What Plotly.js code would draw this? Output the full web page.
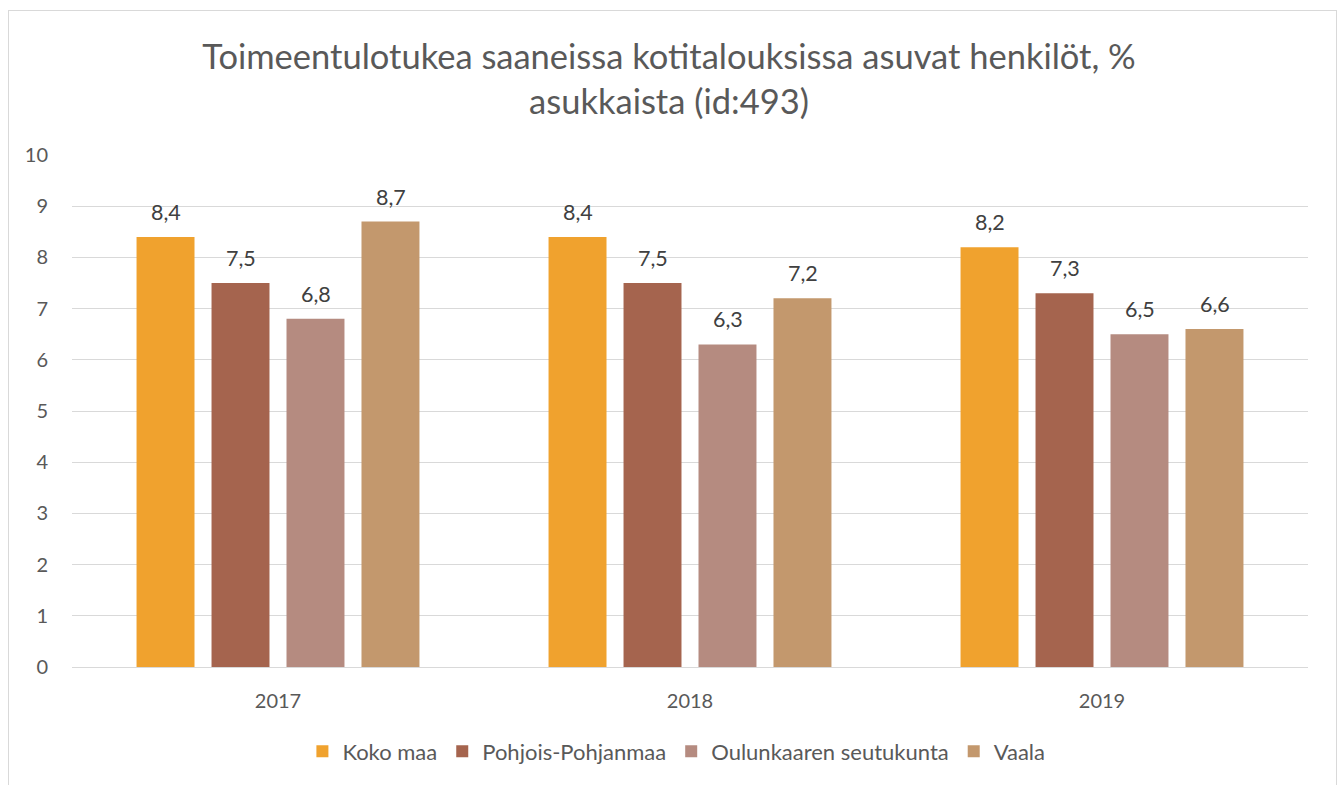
<!DOCTYPE html>
<html>
<head>
<meta charset="utf-8">
<script src="https://cdn.plot.ly/plotly-3.0.1.min.js"></script>
<style>
html,body{margin:0;padding:0;background:#fff;}
#chart{width:1338px;height:785px;}
#frame{position:absolute;left:8px;top:10px;width:1327px;height:800px;border:1px solid #d9d9d9;pointer-events:none;}
</style>
</head>
<body>
<div id="chart"></div>
<div id="frame"></div>
<script>
const years = ['2017', '2018', '2019'];
const seriesNames = ['Koko maa', 'Pohjois-Pohjanmaa', 'Oulunkaaren seutukunta', 'Vaala'];
const kokoMaa = [8.4, 8.4, 8.2];
const pohjoisPohjanmaa = [7.5, 7.5, 7.3];
const oulunkaari = [6.8, 6.3, 6.5];
const vaala = [8.7, 7.2, 6.6];
const yTicks = [0, 1, 2, 3, 4, 5, 6, 7, 8, 9, 10];

const colors = ['#F0A22E', '#A5644E', '#B58B80', '#C3986D'];
const values = [kokoMaa, pohjoisPohjanmaa, oulunkaari, vaala];

const traces = values.map((v, i) => ({
  type: 'bar',
  name: seriesNames[i],
  x: years,
  y: v,
  marker: {color: colors[i]},
  hoverinfo: 'x+y+name'
}));

// data labels placed above each bar (slot spacing of grouped bars = 75 px)
const slotPx = 75;
const annotations = [];
values.forEach((v, i) => {
  v.forEach((val, j) => {
    annotations.push({
      x: j,
      y: val,
      xref: 'x',
      yref: 'y',
      text: val.toFixed(1).replace('.', ','),
      showarrow: false,
      xanchor: 'center',
      yanchor: 'middle',
      xshift: (i - 1.5) * slotPx,
      yshift: 25,
      font: {family: 'Lato, sans-serif', size: 21.5, color: '#404040'}
    });
  });
});

const layout = {
  width: 1338,
  height: 785,
  separators: ', ',
  paper_bgcolor: '#ffffff',
  plot_bgcolor: '#ffffff',
  font: {family: 'Lato, sans-serif', color: '#595959'},
  margin: {l: 72, r: 30, t: 155, b: 115},
  title: {
    text: 'Toimeentulotukea saaneissa kotitalouksissa asuvat henkilöt, %<br>asukkaista (id:493)',
    font: {family: 'Lato, sans-serif', size: 34.5, color: '#595959'},
    x: 0.5,
    xanchor: 'center',
    xref: 'container',
    y: 0.912,
    yref: 'container',
    yanchor: 'middle'
  },
  barmode: 'group',
  bargap: 0.272,
  bargroupgap: 0.227,
  annotations: annotations,
  xaxis: {
    type: 'category',
    tickfont: {size: 20, color: '#595959'},
    showgrid: false,
    showline: false,
    ticks: '',
    zeroline: false,
    ticklabelstandoff: 20
  },
  yaxis: {
    range: [0, 10],
    tickvals: yTicks,
    tickfont: {size: 20, color: '#595959'},
    gridcolor: '#d9d9d9',
    gridwidth: 1,
    zeroline: true,
    zerolinecolor: '#d9d9d9',
    zerolinewidth: 1,
    showline: false,
    ticks: '',
    ticklabelstandoff: 23
  },
  legend: {
    orientation: 'h',
    x: 0.489,
    xanchor: 'center',
    y: -0.165,
    yanchor: 'middle',
    font: {size: 22, color: '#595959'},
    itemwidth: 30,
    traceorder: 'normal'
  },
  showlegend: true
};

Plotly.newPlot('chart', traces, layout, {displayModeBar: false, staticPlot: true});
</script>
</body>
</html>
